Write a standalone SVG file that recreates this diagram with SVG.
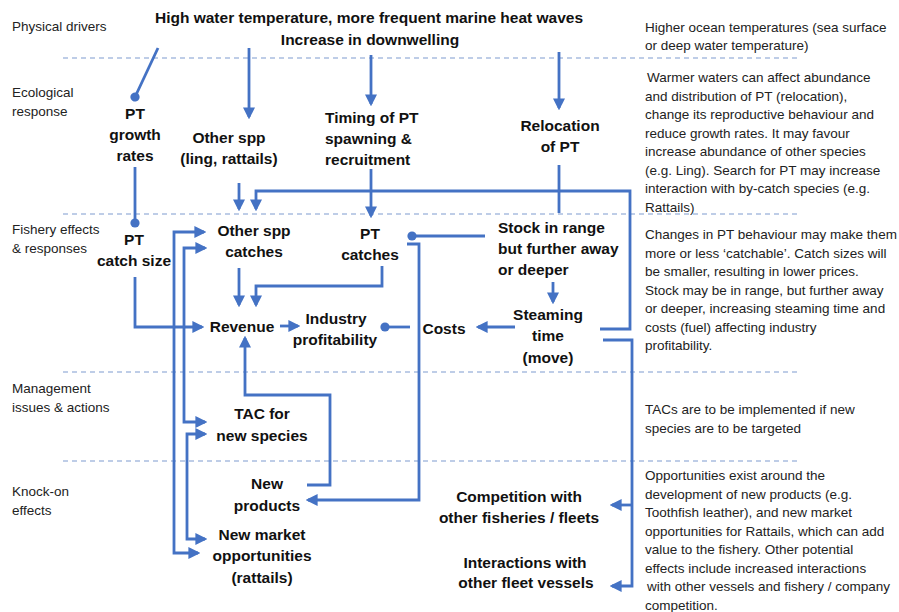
<svg xmlns="http://www.w3.org/2000/svg" width="899" height="612" viewBox="0 0 899 612">
<defs>
<marker id="arr" markerUnits="userSpaceOnUse" markerWidth="12" markerHeight="12" refX="8" refY="5" orient="auto-start-reverse" viewBox="0 0 10 10">
<path d="M0,0 L10,5 L0,10 z" fill="#4472C4"/>
</marker>
<marker id="dot" markerUnits="userSpaceOnUse" markerWidth="10" markerHeight="10" refX="5" refY="5" orient="auto" viewBox="0 0 10 10">
<circle cx="5" cy="5" r="4.6" fill="#4472C4"/>
</marker>
<style>
.lab{font-family:"Liberation Sans",Arial,sans-serif;font-size:13.5px;fill:#222}
.note{font-family:"Liberation Sans",Arial,sans-serif;font-size:13.5px;fill:#222}
.nd{font-family:"Liberation Sans",Arial,sans-serif;font-size:15.5px;font-weight:bold;fill:#111;text-anchor:middle}
.ndl{font-family:"Liberation Sans",Arial,sans-serif;font-size:15.5px;font-weight:bold;fill:#111}
.sep{stroke:#a9bde0;stroke-width:1.4;stroke-dasharray:5 4;fill:none}
.c{stroke:#4472C4;stroke-width:2.8;fill:none}
.a{marker-end:url(#arr)}
.aa{marker-start:url(#arr);marker-end:url(#arr)}
.d{marker-end:url(#dot)}
</style>
</defs>
<rect width="899" height="612" fill="#fff"/>
<g id="separators">
<line class="sep" x1="63" y1="58" x2="800" y2="58"/>
<line class="sep" x1="63" y1="214" x2="800" y2="214"/>
<line class="sep" x1="63" y1="372" x2="800" y2="372"/>
<line class="sep" x1="63" y1="461" x2="800" y2="461"/>
</g>
<g id="row-labels">
<text class="lab" x="12" y="31">Physical drivers</text>
<text class="lab" x="12" y="97">Ecological</text>
<text class="lab" x="12" y="116">response</text>
<text class="lab" x="12" y="234">Fishery effects</text>
<text class="lab" x="12" y="253">&amp; responses</text>
<text class="lab" x="12" y="393">Management</text>
<text class="lab" x="12" y="412">issues &amp; actions</text>
<text class="lab" x="12" y="496">Knock-on</text>
<text class="lab" x="12" y="515">effects</text>
</g>
<g id="notes">
<text class="note" x="645" y="32">Higher ocean temperatures (sea surface</text>
<text class="note" x="645" y="50">or deep water temperature)</text>
<text class="note" x="647" y="82">Warmer waters can affect abundance</text>
<text class="note" x="645" y="100.5">and distribution of PT (relocation),</text>
<text class="note" x="645" y="119">change its reproductive behaviour and</text>
<text class="note" x="645" y="137.5">reduce growth rates. It may favour</text>
<text class="note" x="645" y="156">increase abundance of other species</text>
<text class="note" x="645" y="174.5">(e.g. Ling). Search for PT may increase</text>
<text class="note" x="645" y="193">interaction with by-catch species (e.g.</text>
<text class="note" x="645" y="211.5">Rattails)</text>
<text class="note" x="645" y="239">Changes in PT behaviour may make them</text>
<text class="note" x="645" y="257.5">more or less ‘catchable’. Catch sizes will</text>
<text class="note" x="645" y="276">be smaller, resulting in lower prices.</text>
<text class="note" x="645" y="294.5">Stock may be in range, but further away</text>
<text class="note" x="645" y="313">or deeper, increasing steaming time and</text>
<text class="note" x="645" y="331.5">costs (fuel) affecting industry</text>
<text class="note" x="645" y="350">profitability.</text>
<text class="note" x="645" y="413.5">TACs are to be implemented if new</text>
<text class="note" x="645" y="432.5">species are to be targeted</text>
<text class="note" x="645" y="480">Opportunities exist around the</text>
<text class="note" x="645" y="498.5">development of new products (e.g.</text>
<text class="note" x="645" y="517">Toothfish leather), and new market</text>
<text class="note" x="645" y="535.5">opportunities for Rattails, which can add</text>
<text class="note" x="645" y="554">value to the fishery. Other potential</text>
<text class="note" x="645" y="572.5">effects include increased interactions</text>
<text class="note" x="647" y="591">with other vessels and fishery / company</text>
<text class="note" x="645" y="609.5">competition.</text>
</g>
<g id="driver">
<text class="nd" x="369" y="23">High water temperature, more frequent marine heat waves</text>
<text class="nd" x="370" y="45">Increase in downwelling</text>
</g>
<g id="pt-growth"><text class="nd" x="135" y="118.5">PT</text><text class="nd" x="135" y="140">growth</text><text class="nd" x="135" y="160.5">rates</text></g>
<g id="other-spp"><text class="nd" x="229" y="142.5">Other spp</text><text class="nd" x="229" y="164">(ling, rattails)</text></g>
<g id="timing"><text class="ndl" x="325" y="122.5">Timing of PT</text><text class="ndl" x="325" y="143.5">spawning &amp;</text><text class="ndl" x="325" y="164.5">recruitment</text></g>
<g id="relocation"><text class="nd" x="560" y="130.5">Relocation</text><text class="nd" x="560" y="151.5">of PT</text></g>
<g id="pt-catch-size"><text class="nd" x="134" y="244.5">PT</text><text class="nd" x="134" y="266">catch size</text></g>
<g id="other-catches"><text class="nd" x="254" y="235.5">Other spp</text><text class="nd" x="254" y="256.5">catches</text></g>
<g id="pt-catches"><text class="nd" x="370" y="238.5">PT</text><text class="nd" x="370" y="259.5">catches</text></g>
<g id="stock"><text class="ndl" x="498" y="232.5">Stock in range</text><text class="ndl" x="498" y="253.5">but further away</text><text class="ndl" x="498" y="274.5">or deeper</text></g>
<g id="revenue"><text class="nd" x="242" y="331.5">Revenue</text></g>
<g id="profitability"><text class="nd" x="336" y="323.5">Industry</text><text class="nd" x="335" y="344.5">profitability</text></g>
<g id="costs"><text class="nd" x="444" y="333.5">Costs</text></g>
<g id="steaming"><text class="nd" x="548" y="319.5">Steaming</text><text class="nd" x="548" y="340.5">time</text><text class="nd" x="548" y="362.5">(move)</text></g>
<g id="tac"><text class="nd" x="262" y="418.5">TAC for</text><text class="nd" x="262" y="440.5">new species</text></g>
<g id="new-products"><text class="nd" x="267" y="488.5">New</text><text class="nd" x="267" y="510.5">products</text></g>
<g id="new-market"><text class="nd" x="262" y="539.5">New market</text><text class="nd" x="262" y="560.5">opportunities</text><text class="nd" x="262" y="582.5">(rattails)</text></g>
<g id="competition"><text class="nd" x="519" y="501.5">Competition with</text><text class="nd" x="519" y="522.5">other fisheries / fleets</text></g>
<g id="interactions"><text class="nd" x="525" y="567.5">Interactions with</text><text class="nd" x="526" y="587.5">other fleet vessels</text></g>
<g id="connectors">
<path class="c d" d="M158,48 L135,97"/>
<path class="c a" d="M249,48 L249,117"/>
<path class="c a" d="M371,55 L371,104"/>
<path class="c a" d="M559,52 L559,108"/>
<path class="c d" d="M135,167 L135,223"/>
<path class="c a" d="M239,183 L239,209"/>
<path class="c a" d="M600,329 L630,329 L630,191 L256,191 L256,209"/>
<path class="c" d="M559,165 L559,213"/>
<path class="c a" d="M371,169 L371,216"/>
<path class="c d" d="M485,236 L412,236"/>
<path class="c a" d="M553,282 L553,302"/>
<path class="c a" d="M515,327 L478,327"/>
<path class="c d" d="M410,327 L385,327"/>
<path class="c a" d="M280,326 L298,326"/>
<path class="c a" d="M239,268 L239,305"/>
<path class="c a" d="M382,266 L382,286 L256,286 L256,305"/>
<path class="c a" d="M135,277 L135,327 L202,327"/>
<path class="c aa" d="M204,232 L174,232 L174,553 L198,553"/>
<path class="c aa" d="M205,248 L184,248 L184,422 L205,422"/>
<path class="c aa" d="M205,434 L187,434 L187,539 L205,539"/>
<path class="c a" d="M307,485 L330,485 L330,395 L245,395 L245,338"/>
<path class="c a" d="M407,244 L419,244 L419,500 L308,500"/>
<path class="c a" d="M603,340 L632,340 L632,586 L612,586"/>
<path class="c a" d="M632,505 L612,505"/>
</g>
</svg>
